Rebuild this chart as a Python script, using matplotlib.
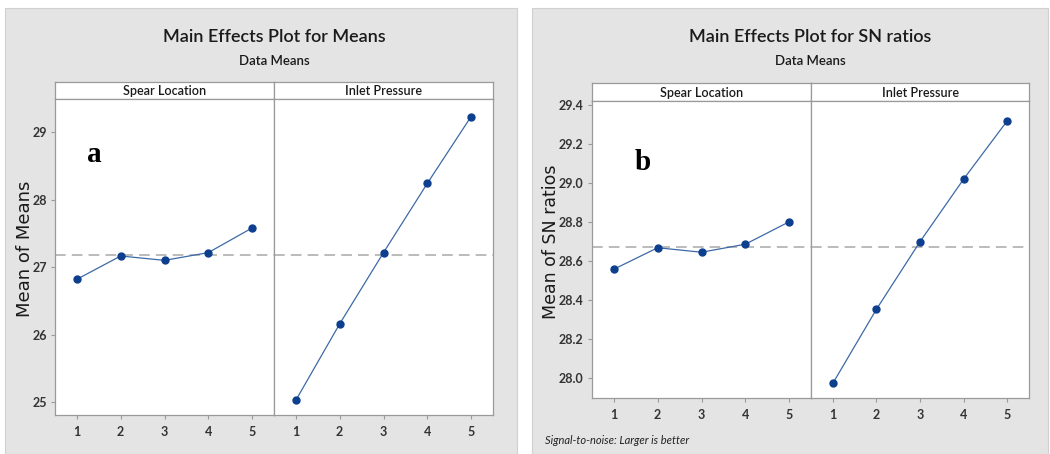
import matplotlib
matplotlib.use("Agg")
import matplotlib.pyplot as plt
from matplotlib.patches import Rectangle

levels = [1, 2, 3, 4, 5]
factors = ["Spear Location", "Inlet Pressure"]

# means response
means_spear = [26.82, 27.165, 27.10, 27.215, 27.58]
means_inlet = [25.03, 26.16, 27.215, 28.24, 29.23]
means_ticks = [25, 26, 27, 28, 29]

# SN ratio response
sn_spear = [28.557, 28.667, 28.644, 28.685, 28.80]
sn_inlet = [27.971, 28.351, 28.698, 29.019, 29.318]
sn_ticks = [28.0, 28.2, 28.4, 28.6, 28.8, 29.0, 29.2, 29.4]

W, H = 1050, 454
fig = plt.figure(figsize=(W / 100, H / 100), dpi=100)
fig.patch.set_facecolor("white")

GRAY_BG = "#e4e4e4"
EDGE = "#9a9a9a"
LINE = "#3d6aa6"
MARK = "#0d3f8f"
FONT = "Lato"


def frac(x0, y0, x1, y1):
    # pixel box (top-left origin) -> figure fraction rect
    return [x0 / W, 1 - y1 / H, (x1 - x0) / W, (y1 - y0) / H]


def panel(bg, title, xs, y_top, y_strip, y_bot, series, ylim, yticks, ytickfmt,
          ylabel, ylabel_x, ylabel_fs, letter, letter_xy, footnote=None):
    fig.add_artist(Rectangle((bg[0] / W, 1 - bg[3] / H), (bg[2] - bg[0]) / W,
                             (bg[3] - bg[1]) / H, transform=fig.transFigure,
                             facecolor=GRAY_BG, edgecolor="#d0d0d0", lw=0.8, zorder=0))
    cx = (xs[0] + xs[-1]) / 2
    fig.text(cx / W, 1 - 37 / H, title, ha="center", va="center", fontsize=13,
             family=FONT, fontweight="semibold", color="#1a1a1a")
    fig.text(cx / W, 1 - 61 / H, "Data Means", ha="center", va="center",
             fontsize=9.5, family=FONT, fontweight="semibold", color="#1a1a1a")
    grand = sum(series[0]) / len(series[0])
    axes = []
    for i, (name, vals) in enumerate(zip(factors, series)):
        x0, x1 = xs[i], xs[i + 1]
        st = fig.add_axes(frac(x0, y_top, x1, y_strip))
        st.set_xticks([])
        st.set_yticks([])
        st.set_facecolor("white")
        for s in st.spines.values():
            s.set_color(EDGE)
            s.set_linewidth(0.9)
        st.text(0.5, 0.45, name, ha="center", va="center", fontsize=9,
                family=FONT, fontweight="semibold", color="#1a1a1a",
                transform=st.transAxes)

        ax = fig.add_axes(frac(x0, y_strip, x1, y_bot))
        ax.set_facecolor("white")
        ax.axhline(grand, color="#a8a8a8", lw=1.1, ls=(0, (7, 4)), zorder=1)
        ax.plot(levels, vals, color=LINE, lw=0.9, zorder=2)
        ax.plot(levels, vals, "o", color=MARK, ms=5, zorder=3)
        ax.set_xlim(0.5, 5.5)
        ax.set_ylim(*ylim)
        ax.set_xticks(levels)
        ax.set_xticklabels([str(v) for v in levels], fontsize=9, family=FONT,
                           fontweight="bold", color="#333333")
        ax.tick_params(axis="x", length=3, color=EDGE, pad=5)
        if i == 0:
            ax.set_yticks(yticks)
            ax.set_yticklabels([ytickfmt.format(v) for v in yticks], fontsize=9,
                               family=FONT, fontweight="bold", color="#333333")
            ax.tick_params(axis="y", length=3, color=EDGE, pad=3)
        else:
            ax.set_yticks([])
        for s in ax.spines.values():
            s.set_color(EDGE)
            s.set_linewidth(0.9)
        axes.append(ax)
    fig.text(ylabel_x / W, 1 - ((y_strip + y_bot) / 2 - 8) / H, ylabel, rotation=90,
             ha="center", va="center", fontsize=ylabel_fs, family="DejaVu Sans",
             color="#1a1a1a")
    fig.text(letter_xy[0] / W, 1 - letter_xy[1] / H, letter, ha="center", va="center",
             fontsize=21, fontweight="bold", family="Liberation Serif")
    if footnote:
        fig.text(545 / W, 1 - 440 / H, footnote, ha="left", va="center",
                 fontsize=8, style="italic", family=FONT, color="#222222")
    return axes


panel((5, 8, 517, 454), "Main Effects Plot for Means", [55, 274, 493], 82, 99, 415,
      [means_spear, means_inlet], (24.81, 29.49), means_ticks, "{:d}",
      "Mean of Means", 25, 13, "a", (94, 154))

panel((532, 8, 1048, 454), "Main Effects Plot for SN ratios", [592, 811, 1029], 83, 101, 398,
      [sn_spear, sn_inlet], (27.896, 29.42), sn_ticks, "{:.1f}",
      "Mean of SN ratios", 551, 12.5, "b", (643, 162),
      footnote="Signal-to-noise: Larger is better")

fig.savefig("out.png", dpi=100)
